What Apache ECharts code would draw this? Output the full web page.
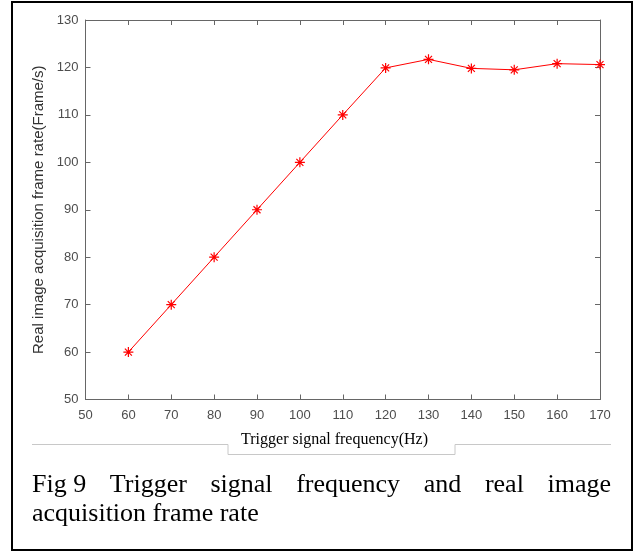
<!DOCTYPE html>
<html>
<head>
<meta charset="utf-8">
<script src="https://cdn.jsdelivr.net/npm/echarts@6/dist/echarts.min.js"></script>
<style>
  html, body { margin: 0; padding: 0; background: #fff; }
  #chart { width: 644px; height: 556px; }
</style>
</head>
<body>
<div id="chart"></div>
<script>
// data
var freqs = [60, 70, 80, 90, 100, 110, 120, 130, 140, 150, 160, 170];
var frameRates = [60, 70, 80, 90, 100, 110, 119.9, 121.7, 119.8, 119.5, 120.8, 120.6];
var xRange = [50, 170, 10];
var yRange = [50, 130, 10];
var xName = 'Trigger signal frequency(Hz)';
var yName = 'Real image acquisition frame rate(Frame/s)';
var captionLine1 = ['Fig 9', 'Trigger', 'signal', 'frequency', 'and', 'real', 'image'];
var captionLine2 = 'acquisition frame rate';

var axisColor = '#666';
var labelColor = '#4d4d4d';
var sansFont = 'Arial, "Liberation Sans", sans-serif';
var captionFont = '26px "Liberation Serif", "Times New Roman", serif';

// justify first caption line between two edges
function justifyWords(words, x0, x1, font) {
  var ctx = document.createElement('canvas').getContext('2d');
  ctx.font = font;
  var widths = words.map(function (w) { return ctx.measureText(w).width; });
  var total = widths.reduce(function (a, b) { return a + b; }, 0);
  var gap = (x1 - x0 - total) / (words.length - 1);
  var x = x0, out = [];
  for (var i = 0; i < words.length; i++) {
    out.push(x);
    x += widths[i] + gap;
  }
  return out;
}

var wordX = justifyWords(captionLine1, 32, 611, captionFont);
var captionEls = captionLine1.map(function (w, i) {
  return {
    type: 'text', x: wordX[i], y: 485,
    style: { text: w, font: captionFont, fill: '#000', textVerticalAlign: 'middle' }
  };
});
captionEls.push({
  type: 'text', x: 32, y: 514,
  style: { text: captionLine2, font: captionFont, fill: '#000', textVerticalAlign: 'middle' }
});

function xAxisCfg(pos, showLabel) {
  return {
    type: 'value', position: pos,
    min: xRange[0], max: xRange[1], interval: xRange[2],
    axisLine: { show: true, onZero: false, lineStyle: { color: axisColor, width: 1 } },
    axisTick: { show: true, inside: true, length: 5, lineStyle: { color: axisColor } },
    axisLabel: { show: showLabel, color: labelColor, fontFamily: sansFont, fontSize: 13, margin: 9 },
    splitLine: { show: false }
  };
}
function yAxisCfg(pos, showLabel) {
  return {
    type: 'value', position: pos,
    min: yRange[0], max: yRange[1], interval: yRange[2],
    axisLine: { show: true, onZero: false, lineStyle: { color: axisColor, width: 1 } },
    axisTick: { show: true, inside: true, length: 5, lineStyle: { color: axisColor } },
    axisLabel: { show: showLabel, color: labelColor, fontFamily: sansFont, fontSize: 13, margin: 7 },
    splitLine: { show: false }
  };
}

var xMain = xAxisCfg('bottom', true);
var yMain = yAxisCfg('left', true);
yMain.name = yName;
yMain.nameLocation = 'middle';
yMain.nameGap = 37;
yMain.nameTextStyle = { color: '#333', fontFamily: sansFont, fontSize: 15 };

var star = 'path://M0,-5L0,5M-5,0L5,0M-3.5,-3.5L3.5,3.5M-3.5,3.5L3.5,-3.5';

var chart = echarts.init(document.getElementById('chart'));
chart.setOption({
  backgroundColor: '#fff',
  animation: false,
  grid: { left: 85.5, right: 44, top: 20, bottom: 156.5 },
  xAxis: [xMain, xAxisCfg('top', false)],
  yAxis: [yMain, yAxisCfg('right', false)],
  series: [{
    type: 'line',
    xAxisIndex: 0, yAxisIndex: 0,
    data: freqs.map(function (f, i) { return [f, frameRates[i]]; }),
    lineStyle: { color: '#ff0000', width: 1 },
    symbol: star,
    symbolSize: 10,
    itemStyle: { color: 'rgba(0,0,0,0)', borderColor: '#ff0000', borderWidth: 1.2 }
  }],
  graphic: [
    {
      type: 'rect', shape: { x: 12, y: 2, width: 620, height: 548 },
      style: { fill: 'none', stroke: '#000', lineWidth: 2 }, silent: true
    },
    {
      type: 'polyline',
      shape: { points: [[32, 444.5], [228, 444.5], [228, 454.5], [455, 454.5], [455, 444.5], [611, 444.5]] },
      style: { fill: 'none', stroke: '#c8c8c8', lineWidth: 1 }
    },
    {
      type: 'text', x: 334.5, y: 440,
      style: {
        text: xName, font: '16px "Liberation Serif", "Times New Roman", serif', fill: '#000',
        textAlign: 'center', textVerticalAlign: 'middle'
      }
    }
  ].concat(captionEls)
});
</script>
</body>
</html>
